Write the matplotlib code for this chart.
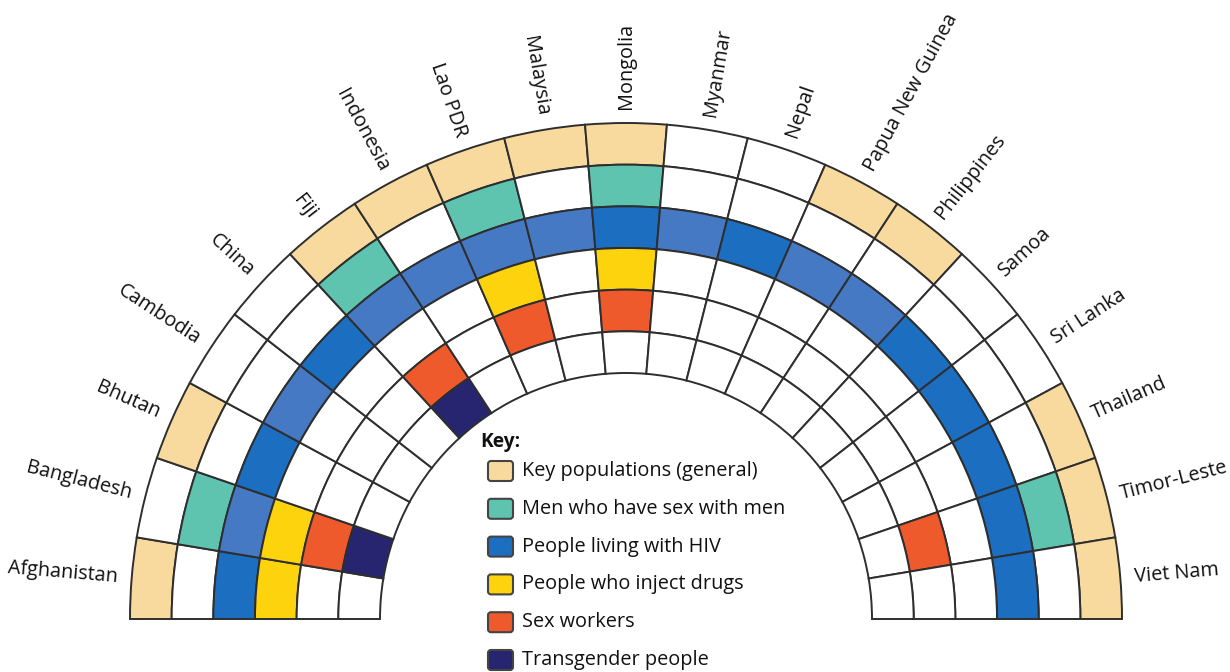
import numpy as np
import matplotlib
matplotlib.use("Agg")
import matplotlib.pyplot as plt
from matplotlib.patches import Wedge, FancyBboxPatch

plt.rcParams["font.family"] = ["Open Sans", "DejaVu Sans"]

# ── Data ─────────────────────────────────────────────────
countries = ["Afghanistan", "Bangladesh", "Bhutan", "Cambodia", "China", "Fiji",
             "Indonesia", "Lao PDR", "Malaysia", "Mongolia", "Myanmar", "Nepal",
             "Papua New Guinea", "Philippines", "Samoa", "Sri Lanka", "Thailand",
             "Timor-Leste", "Viet Nam"]

groups = ["Key populations (general)", "Men who have sex with men",
          "People living with HIV", "People who inject drugs",
          "Sex workers", "Transgender people"]

# 1 = group named for that country (outer ring first)
key_general = [1, 0, 1, 0, 0, 1, 1, 1, 1, 1, 0, 0, 1, 1, 0, 0, 1, 1, 1]
msm         = [0, 1, 0, 0, 0, 1, 0, 1, 0, 1, 0, 0, 0, 0, 0, 0, 0, 1, 0]
plhiv       = [1, 1, 1, 1, 1, 1, 1, 1, 1, 1, 1, 1, 1, 1, 1, 1, 1, 1, 1]
pwid        = [1, 1, 0, 0, 0, 0, 0, 1, 0, 1, 0, 0, 0, 0, 0, 0, 0, 0, 0]
sex_workers = [0, 1, 0, 0, 0, 1, 0, 1, 0, 1, 0, 0, 0, 0, 0, 0, 0, 1, 0]
transgender = [0, 1, 0, 0, 0, 1, 0, 0, 0, 0, 0, 0, 0, 0, 0, 0, 0, 0, 0]

# ── Style ────────────────────────────────────────────────
colors = ["#F8DA9F", "#5EC3AF", "#1C6EC1", "#FCD30C", "#EE5A2C", "#27256F"]
plhiv_light = "#4679C4"   # print shade seen on some PLHIV cells
plhiv_is_light = [0, 1, 0, 1, 0, 1, 1, 1, 1, 0, 1, 0, 1, 1, 0, 0, 0, 0, 0]
edge = "#2E2E2E"
fs = 14.3

rings = [key_general, msm, plhiv, pwid, sex_workers, transgender]

fig = plt.figure(figsize=(12.3, 6.72), dpi=100)
ax = fig.add_axes([0, 0, 1, 1])
ax.set_xlim(0, 1230)
ax.set_ylim(0, 672)
ax.axis("off")

cx, cy = 626, 672 - 619
r_out, r_in = 496, 246
w = (r_out - r_in) / len(rings)
step = 180 / len(countries)

for i, name in enumerate(countries):
    t2 = 180 - i * step
    t1 = t2 - step
    for j, ring in enumerate(rings):
        if ring[i]:
            fc = colors[j]
            if j == 2 and plhiv_is_light[i]:
                fc = plhiv_light
        else:
            fc = "white"
        ax.add_patch(Wedge((cx, cy), r_out - j * w, t1, t2, width=w,
                           facecolor=fc, edgecolor=edge, linewidth=1.4))

    mid = 180 - (i + 0.5) * step
    a = np.deg2rad(mid)
    x = cx + 510 * np.cos(a)
    y = cy + 510 * np.sin(a)
    if mid > 90.5:
        ax.text(x, y, name, rotation=mid - 180, rotation_mode="anchor",
                ha="right", va="center", fontsize=fs, color="#111111")
    else:
        ax.text(x, y, name, rotation=mid, rotation_mode="anchor",
                ha="left", va="center", fontsize=fs, color="#111111")

# ── Key ──────────────────────────────────────────────────
ax.text(480, 672 - 442, "Key:", fontsize=fs - 0.5, fontweight="bold",
        ha="left", va="center", color="#111111")
for k, label in enumerate(groups):
    yc = 672 - (471 + k * 37.8)
    ax.add_patch(FancyBboxPatch((488, yc - 10), 25, 20,
                                boxstyle="round,pad=0,rounding_size=3",
                                facecolor=colors[k], edgecolor="#444444",
                                linewidth=1.5))
    ax.text(522, yc, label, fontsize=fs, ha="left", va="center",
            color="#111111")

plt.savefig("out.png", dpi=100)
plt.close()
